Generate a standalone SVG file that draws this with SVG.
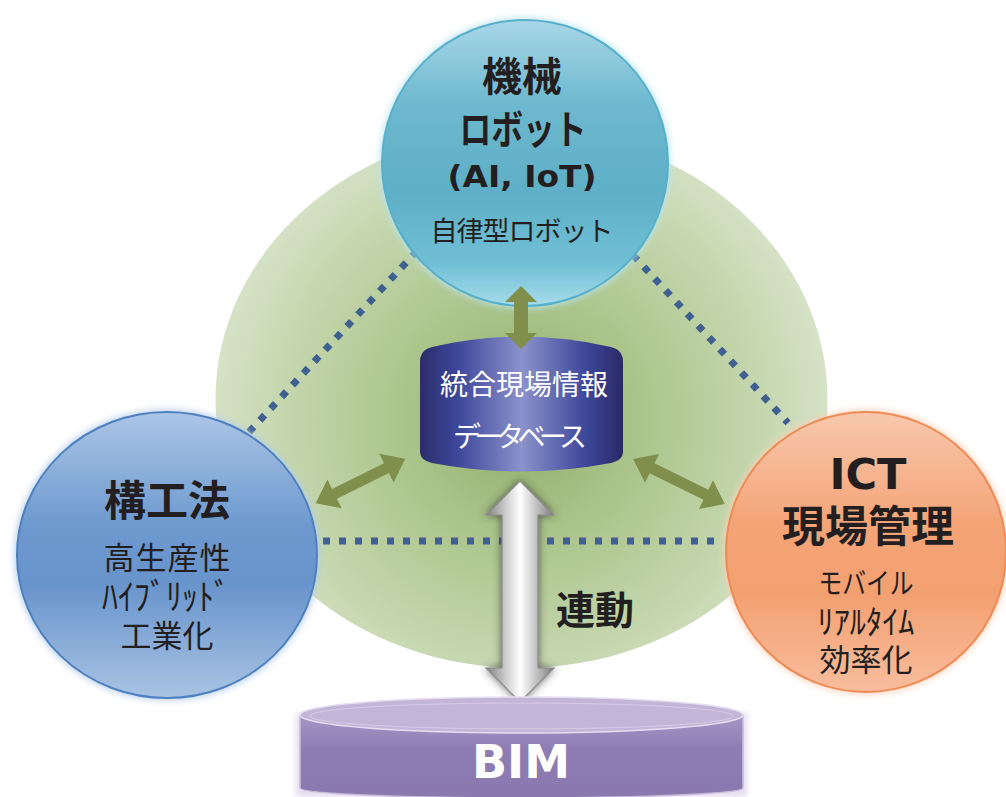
<svg xmlns="http://www.w3.org/2000/svg" width="1006" height="797" viewBox="0 0 1006 797">
<defs>
<radialGradient id="gGreen" cx="521.5" cy="420" r="320" gradientUnits="userSpaceOnUse">
<stop offset="0" stop-color="#90ad68"/>
<stop offset="0.35" stop-color="#a9c389"/>
<stop offset="0.75" stop-color="#c5d7ae"/>
<stop offset="1" stop-color="#d8e4cb"/>
</radialGradient>
<linearGradient id="gTop" x1="0" y1="0" x2="0" y2="1">
<stop offset="0" stop-color="#a8d7e7"/>
<stop offset="0.3" stop-color="#6db8ce"/>
<stop offset="0.6" stop-color="#5eafc7"/>
<stop offset="0.85" stop-color="#70bfd5"/>
<stop offset="1" stop-color="#a6dcea"/>
</linearGradient>
<linearGradient id="gLeft" x1="0" y1="0" x2="0" y2="1">
<stop offset="0" stop-color="#abc5e5"/>
<stop offset="0.4" stop-color="#6d99cf"/>
<stop offset="0.6" stop-color="#6894cc"/>
<stop offset="1" stop-color="#a9c3e3"/>
</linearGradient>
<linearGradient id="gRight" x1="0" y1="0" x2="0" y2="1">
<stop offset="0" stop-color="#f8c8ad"/>
<stop offset="0.4" stop-color="#f4a477"/>
<stop offset="0.65" stop-color="#f3a071"/>
<stop offset="1" stop-color="#f8bd9d"/>
</linearGradient>
<linearGradient id="gCyl" x1="0" y1="0" x2="1" y2="0">
<stop offset="0" stop-color="#2c2c6a"/>
<stop offset="0.18" stop-color="#3c4699"/>
<stop offset="0.5" stop-color="#8b92cb"/>
<stop offset="0.82" stop-color="#3c4699"/>
<stop offset="1" stop-color="#2b2966"/>
</linearGradient>
<linearGradient id="gGrey" x1="0" y1="0" x2="1" y2="0">
<stop offset="0" stop-color="#7f7f7f"/>
<stop offset="0.3" stop-color="#cfcfcf"/>
<stop offset="0.5" stop-color="#ffffff"/>
<stop offset="0.7" stop-color="#cccccc"/>
<stop offset="1" stop-color="#7c7c7c"/>
</linearGradient>
<linearGradient id="gBim" x1="0" y1="0" x2="0" y2="1">
<stop offset="0" stop-color="#a597c6"/>
<stop offset="0.4" stop-color="#8e7db3"/>
<stop offset="1" stop-color="#8a78ae"/>
</linearGradient>
<filter id="glow" x="-20%" y="-20%" width="140%" height="140%">
<feGaussianBlur stdDeviation="3"/>
</filter>
<filter id="shadow" x="-40%" y="-20%" width="180%" height="140%">
<feGaussianBlur in="SourceAlpha" stdDeviation="4"/>
<feOffset dx="0" dy="0" result="b"/>
<feFlood flood-color="#333" flood-opacity="0.75"/>
<feComposite in2="b" operator="in"/>
<feMerge><feMergeNode/><feMergeNode in="SourceGraphic"/></feMerge>
</filter>
<style>
.dot{fill:none;stroke:#3f6090;stroke-width:7;stroke-dasharray:7 9}
.garrow{fill:#808f4c}
.jb{font-family:"Noto Sans CJK JP",sans-serif;font-weight:700;fill:#231f20;text-anchor:middle;dominant-baseline:central}
.jr{font-family:"Noto Sans CJK JP",sans-serif;font-weight:400;fill:#231f20;text-anchor:middle;dominant-baseline:central}
.lb{font-family:"DejaVu Sans",sans-serif;font-weight:700;fill:#231f20;text-anchor:middle;dominant-baseline:central}
.wr{font-family:"Noto Sans CJK JP",sans-serif;font-weight:400;fill:#ffffff;text-anchor:middle;dominant-baseline:central}
</style>
</defs>
<rect width="1006" height="797" fill="#ffffff"/>
<g id="background">
<ellipse cx="521.5" cy="399" rx="306" ry="269" fill="url(#gGreen)"/>
</g>
<g id="connectors">
<line class="dot" x1="249" y1="432" x2="415" y2="253"/>
<line class="dot" x1="633" y1="255" x2="788" y2="423"/>
<line class="dot" x1="323" y1="541" x2="718" y2="541"/>
</g>
<g id="node-robot">
<circle cx="525" cy="163" r="146" fill="#b9e4ef" opacity="0.8" filter="url(#glow)"/>
<circle cx="525" cy="163" r="143" fill="url(#gTop)" stroke="#56b0cb" stroke-width="2"/>
<text class="jb" x="522" y="74" font-size="40">機械</text>
<text class="jb" x="523" y="127" font-size="40" textLength="127" lengthAdjust="spacingAndGlyphs">ロボット</text>
<text class="lb" x="522" y="176" font-size="31" textLength="149" lengthAdjust="spacingAndGlyphs">(AI, IoT)</text>
<text class="jr" x="522" y="229" font-size="27" textLength="183">自律型ロボット</text>
</g>
<g id="node-kouhou">
<ellipse cx="167" cy="555" rx="153" ry="146" fill="#b3cbea" opacity="0.8" filter="url(#glow)"/>
<ellipse cx="167" cy="555" rx="150" ry="143" fill="url(#gLeft)" stroke="#4d80c1" stroke-width="2"/>
<text class="jb" x="167" y="497" font-size="42">構工法</text>
<text class="jr" x="167" y="555" font-size="31" textLength="127">高生産性</text>
<text class="jr" x="166" y="594" font-size="36" textLength="128" lengthAdjust="spacingAndGlyphs">ﾊｲﾌﾞﾘｯﾄﾞ</text>
<text class="jr" x="167" y="633" font-size="31">工業化</text>
</g>
<g id="node-ict">
<circle cx="866" cy="552" r="143" fill="#fbd0b8" opacity="0.8" filter="url(#glow)"/>
<circle cx="866" cy="552" r="140" fill="url(#gRight)" stroke="#ef8a55" stroke-width="2"/>
<text class="lb" x="868" y="474" font-size="42" textLength="77" lengthAdjust="spacingAndGlyphs">ICT</text>
<text class="jb" x="868" y="523" font-size="43">現場管理</text>
<text class="jr" x="866" y="581" font-size="29" textLength="95" lengthAdjust="spacingAndGlyphs">モバイル</text>
<text class="jr" x="866" y="620" font-size="33" textLength="97" lengthAdjust="spacingAndGlyphs">ﾘｱﾙﾀｲﾑ</text>
<text class="jr" x="866" y="657" font-size="31">効率化</text>
</g>
<g id="node-database">
<path d="M420,362 Q420,350 432,347 Q521,326 611,347 Q623,350 623,362 L623,452 Q623,460 611,463 Q521,480 432,463 Q420,460 420,452 Z" fill="url(#gCyl)"/>
<text class="wr" x="524" y="383" font-size="28">統合現場情報</text>
<text class="wr" x="520" y="435" font-size="28" textLength="134">データベース</text>
</g>
<g id="arrows">
<path class="garrow" d="M521,286 L537,302 L528,302 L528,333 L537,333 L521,349 L505,333 L514,333 L514,302 L505,302 Z"/>
<path class="garrow" transform="translate(360.5,481) rotate(-26.3)" d="M-50,0 L-29,-16 L-29,-5.5 L29,-5.5 L29,-16 L50,0 L29,16 L29,5.5 L-29,5.5 L-29,16 Z"/>
<path class="garrow" transform="translate(679,481.5) rotate(26.1)" d="M-51,0 L-30,-16 L-30,-5.5 L30,-5.5 L30,-16 L51,0 L30,16 L30,5.5 L-30,5.5 L-30,16 Z"/>
<path d="M520,481 L554,515 L538,515 L538,668 L554,668 L520,702 L486,668 L502,668 L502,515 L486,515 Z" fill="url(#gGrey)" stroke="#8a8a8a" stroke-width="1.2" filter="url(#shadow)"/>
<text class="jb" x="595" y="607" font-size="39">連動</text>
</g>
<g id="node-bim">
<path d="M296,713 L296,797 L747,797 L747,713 Z" fill="#ddd3ea" opacity="0.8" filter="url(#glow)"/>
<path d="M300,715 L300,788 A221.5,10 0 0 0 743,788 L743,715 Z" fill="url(#gBim)" stroke="#c9bddd" stroke-width="1.5"/>
<ellipse cx="521.5" cy="715" rx="221.5" ry="18" fill="#c3b5d8" stroke="#e6ddf0" stroke-width="1.5"/>
<ellipse cx="521.5" cy="716" rx="212" ry="13" fill="none" stroke="#d7cce6" stroke-width="1"/>
<text x="521" y="762" font-family="DejaVu Sans, sans-serif" font-weight="700" font-size="46" fill="#ffffff" text-anchor="middle" dominant-baseline="central">BIM</text>
</g>
</svg>
